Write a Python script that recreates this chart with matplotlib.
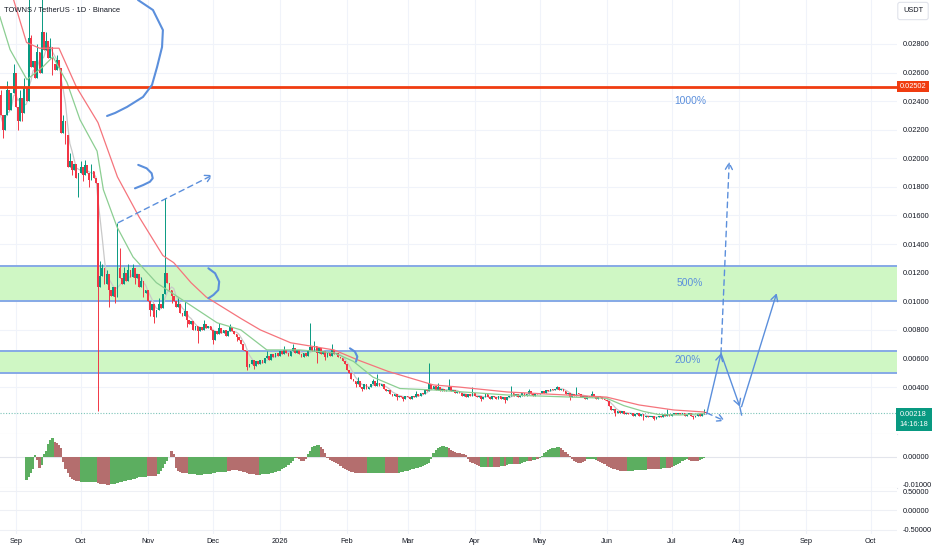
import numpy as np
import pandas as pd
import matplotlib
matplotlib.use('Agg')
import matplotlib.pyplot as plt
from matplotlib import font_manager

# prices in thousandths of USDT (0.0250 -> 25.0), one candle per day from 2025-08-25
first_open = 24.4
closes = [
    23.0, 22.0, 23.0, 24.8, 23.4, 24.6, 26.0,   # Aug 25
    23.6, 22.6, 24.2, 23.2, 25.0, 24.0, 28.4,   # Sep 1
    26.4, 26.8, 25.6, 27.4, 26.0, 28.8, 27.6,
    28.2, 27.0, 27.8, 26.6, 26.2, 26.9, 26.3,
    21.8, 22.6, 21.6, 19.4, 19.8, 19.2, 19.6,
    18.6, 19.0, 19.4, 18.8, 19.5, 19.0, 18.5,
    19.1, 18.6, 18.3, 11.0, 11.8, 12.3, 11.2,   # Oct 6
    11.9, 10.8, 10.4, 11.0, 10.3, 12.3, 11.6,
    11.2, 12.0, 11.4, 12.2, 11.7, 12.3, 11.6,
    11.9, 11.0, 11.4, 10.6, 10.8, 10.0, 9.4,
    9.8, 8.9, 9.4, 9.8, 9.5, 10.5, 12.0,        # Nov 3
    11.3, 10.8, 10.4, 10.0, 9.6, 9.8, 9.2,
    9.0, 9.3, 8.7, 8.4, 8.6, 8.0, 8.3,
    7.9, 8.2, 8.0, 8.4, 8.1, 8.3, 8.0,
    7.3, 7.9, 7.7, 8.1, 7.8, 8.0, 7.6,          # Dec 1
    7.9, 8.2, 7.9, 7.7, 7.5, 7.3, 7.0,
    6.6, 6.5, 5.4, 5.6, 5.9, 5.5, 5.8,
    5.6, 5.9, 5.7, 6.0, 6.2, 5.9, 6.3,
    6.1, 6.4, 6.2, 6.5, 6.3, 6.6, 6.4,          # Dec 29
    6.2, 6.5, 6.7, 6.4, 6.6, 6.3, 6.1,
    6.4, 6.2, 6.6, 6.8, 6.5, 6.9, 6.4,
    6.7, 6.3, 6.5, 6.1, 6.4, 6.2, 6.6,
    6.3, 6.4, 6.1, 6.0, 5.8, 5.6, 5.2,          # Jan 26
    5.0, 4.6, 4.4, 4.2, 4.4, 4.0, 3.9,
    4.2, 3.9, 4.0, 4.2, 4.4, 4.1, 4.3,
    4.1, 4.2, 3.9, 3.7, 3.8, 3.5, 3.4,
    3.5, 3.3, 3.4, 3.3, 3.2, 3.4, 3.3,          # Feb 23
    3.2, 3.4, 3.3, 3.5, 3.4, 3.6, 3.5,
    3.8, 3.7, 4.2, 3.9, 4.1, 3.8, 4.0,
    3.7, 3.9, 3.7, 3.8, 4.0, 3.7, 3.8,
    3.6, 3.7, 3.6, 3.4, 3.5, 3.3, 3.5,          # Mar 23
    3.4, 3.6, 3.4, 3.3, 3.4, 3.2, 3.3,
    3.5, 3.3, 3.2, 3.4, 3.3, 3.2, 3.4,
    3.2, 3.3, 3.1, 3.3, 3.4, 3.6, 3.4,
    3.5, 3.3, 3.4, 3.6, 3.4, 3.5, 3.7,          # Apr 20
    3.5, 3.4, 3.6, 3.5, 3.6, 3.7, 3.6,
    3.8, 3.7, 3.9, 3.8, 3.9, 4.0, 3.8,
    3.9, 3.7, 3.5, 3.6, 3.3, 3.5, 3.4,
    3.6, 3.5, 3.3, 3.4, 3.2, 3.4, 3.3,          # May 18
    3.5, 3.3, 3.2, 3.4, 3.3, 3.2, 3.1,
    3.0, 2.7, 2.4, 2.5, 2.2, 2.3, 2.2,
    2.3, 2.1, 2.2, 2.1, 2.2, 2.0, 2.1,
    2.2, 2.0, 2.1, 1.9, 2.0, 1.9, 1.9,          # Jun 15
    2.0, 1.8, 1.9, 2.0, 1.9, 2.1, 2.0,
    2.1, 2.0, 2.1, 2.2, 2.1, 2.2, 2.1,
    2.2, 2.0, 2.1, 2.2, 2.0, 1.9, 2.0,
    2.1, 2.0, 2.1, 2.2, 2.18,                   # Jul 13
]
wick_hi = {-7: 24.8, -4: 25.4, -1: 26.6, 2: 24.8, 4: 25.6, 6: 31.5, 7: 28.6, 10: 28.0,
           12: 31.2, 14: 28.8, 16: 28.4, 19: 27.2, 22: 23.0, 25: 20.4, 30: 19.8, 32: 19.9,
           35: 19.6, 39: 12.8, 40: 12.6, 42: 12.2, 47: 15.5, 48: 13.7, 50: 12.4, 52: 12.6,
           54: 12.6, 58: 11.7, 66: 10.2, 69: 17.2, 75: 10.2, 78: 10.0, 87: 8.7, 94: 8.5,
           99: 8.4, 116: 6.5, 124: 6.9, 128: 7.0, 136: 8.5, 138: 7.2, 146: 7.0, 158: 4.7,
           165: 4.6, 167: 4.9, 185: 3.7, 191: 5.7, 195: 4.3, 200: 4.6, 211: 4.0, 229: 4.1,
           237: 3.9, 250: 4.1, 259: 4.0, 266: 3.7, 301: 2.5, 318: 2.5}
wick_lo = {-6: 21.4, 1: 22.0, 3: 22.6, 17: 25.8, 23: 21.0, 26: 18.8, 29: 17.3, 31: 18.4,
           34: 18.0, 38: 2.3, 43: 9.6, 46: 9.9, 55: 11.2, 59: 10.3, 62: 9.0, 64: 8.5,
           72: 9.9, 79: 8.2, 84: 7.1, 91: 7.0, 102: 7.2, 107: 5.2, 110: 5.3, 139: 5.7,
           143: 5.9, 157: 4.0, 160: 3.7, 176: 3.1, 179: 3.0, 215: 3.0, 226: 2.9, 256: 3.1,
           277: 2.0, 290: 1.7, 295: 1.7, 313: 1.8}

# moving averages as they are drawn on the chart (day, price)
red_ma_days = [-1, 5, 11, 20, 28, 38, 47, 57, 68, 73, 81, 88, 104, 113, 127, 147, 158, 172,
               193, 205, 227, 273, 288, 304, 318]
red_ma_vals = [31.1, 28.1, 27.7, 27.7, 25.0, 22.5, 18.7, 15.9, 13.2, 12.7, 11.3, 10.3, 8.8,
               8.0, 7.1, 6.6, 5.9, 5.1, 4.15, 4.0, 3.66, 3.3, 2.75, 2.4, 2.26]
green_ma_days = [-7.3, -2.6, 5.2, 12.6, 17.2, 23.7, 29.7, 37.6, 40.5, 46.8, 54.2, 65, 77, 93,
                 104, 116, 131, 147, 156, 165, 177.5, 193, 227, 273, 281, 290, 297, 307, 318]
green_ma_vals = [29.9, 27.6, 25.5, 26.4, 27.1, 25.3, 22.7, 20.5, 17.8, 15.2, 13.1, 11.3, 10.1,
                 8.5, 8.0, 6.6, 6.6, 6.4, 5.8, 4.7, 3.9, 3.8, 3.45, 3.22, 2.7, 2.3, 2.08,
                 2.05, 2.16]

# oscillator histogram, units of 1e-4, one bar per day from day 5
osc_start = 5
osc_vals = [
    -83, -75, -60, -45, 6, -12, -42, -30,
    8, 20, 45, 62, 68, 54, 50, 42, 30,
    -20, -45, -60, -72, -80, -85, -88, -89,
    -90, -90, -91, -91, -92, -92, -93, -93,
    -95, -97, -99, -100, -101, -101,
    -100, -99, -97, -95, -93, -91, -89, -87, -85, -83, -81, -79, -77, -75, -74, -73, -72,
    -71, -71, -70, -70, -69,
    -62, -52, -40, -28, -14, -2,
    22, 10,
    -40, -50, -55, -58, -60, -60,
    -62, -63, -64, -64, -65, -65, -65, -64, -63, -62, -61, -60, -58, -57, -56, -55, -54, -54,
    -52, -50, -49, -48, -48, -50, -52, -55, -57, -59, -61, -63, -64, -65, -65,
    -65, -64, -63, -62, -61, -60, -58, -56, -53, -50, -46, -42, -37, -30, -22, -14, -6,
    -4, -10, -14, -14, -10,
    8, 22, 34, 40, 42, 42,
    36, 28, 15,
    -6, -12, -15, -18, -22, -28, -34, -40, -45, -49, -52, -55, -57, -58, -59, -60, -60, -60, -60,
    -60, -60, -60, -60, -60, -60, -60, -60,
    -60, -60, -60, -60, -60, -59,
    -58, -56, -54, -52, -50, -48, -46, -44, -42, -39, -36, -33, -30, -27, -24,
    -8,
    15, 25, 30, 35, 38, 38, 36,
    30, 26, 22, 18, 15, 12, 10, 8, 5,
    -10, -18, -24, -28,
    -30, -34, -36, -37, -37, -36, -36, -37, -38, -37, -36, -35, -34, -32, -30,
    -28, -26, -25, -26, -27, -25, -22, -18, -15, -14, -14, -13, -12, -10, -5,
    4, 12, 18, 24, 28, 31, 33, 34, 34,
    30, 25, 18, 10, 4,
    -10, -16, -20, -22, -22, -20, -16,
    -10, -8, -8, -10, -12,
    -16, -20, -24, -28, -32, -36, -40, -43, -46, -48, -50, -51, -52, -52,
    -51, -50, -50, -49, -49, -48, -48, -47, -47,
    -46, -46, -45, -45, -44, -44,
    -43, -42, -41,
    -40, -39, -38,
    -34, -30, -26, -21, -17, -13, -10,
    -12, -15, -17, -17, -15,
    -12, -8, -4, -1,
]
osc_colors = ("gggggrrg" + "gggggrrrr" + "r" * 8 + "g" * 8 + "r" * 6 + "g" * 17 + "r" * 5
              + "g" * 6 + "rr" + "r" * 6 + "g" * 18 + "r" * 15 + "g" * 17 + "r" * 5 + "g" * 6
              + "rrr" + "r" * 19 + "g" * 8 + "r" * 6 + "g" * 15 + "g" + "g" * 7 + "r" * 9
              + "r" * 4 + "rrgggrggrrrggrgggrrrggggrrggrg" + "g" * 9 + "r" * 5 + "r" * 7
              + "g" * 5 + "r" * 14 + "g" * 9 + "r" * 6 + "ggg" + "rrr" + "g" * 7 + "r" * 5
              + "g" * 4)

resistance = 25.02
zones = [(10.0, 12.5), (5.0, 6.5)]
last_price = 2.18
target_labels = ["1000%", "500%", "200%"]
target_pos = [(311.5, 24.0), (311.5, 11.3), (310.5, 5.9)]

# hand drawn marks (day, price)
curve_big = [(56.5, 31.07), (63.4, 30.37), (68.0, 28.97), (67.6, 27.78), (65.3, 26.38),
             (62.96, 25.13), (58.8, 24.29), (51.4, 23.59), (45.9, 23.17), (42.2, 22.96)]
curve_2 = [(56.6, 19.54), (60.5, 19.30), (62.8, 18.95), (63.3, 18.60), (62.0, 18.36),
           (58.9, 18.13), (55.1, 17.90)]
curve_3 = [(89.0, 12.31), (92.1, 11.96), (94.0, 11.37), (93.6, 10.79), (91.3, 10.44),
           (89.0, 10.21)]
curve_4 = [(154.4, 6.71), (156.7, 6.48), (157.8, 6.13), (157.2, 5.78)]
solid_arrows = [((319.2, 2.12), (325.8, 6.36)), ((325.8, 6.36), (334.5, 2.63)),
                ((335.3, 2.63), (351.5, 10.56))]
dashed_arrows = [((47.4, 15.5), (91.0, 18.83)), ((319.3, 2.19), (327.6, 1.63)),
                 ((325.8, 6.36), (329.6, 19.76))]

base = pd.Timestamp("2025-09-01")
months = pd.date_range("2025-09-01", "2026-10-01", freq="MS")
month_days = (months - base).days
month_labels = ["2026" if m.month == 1 else m.strftime("%b") for m in months]

names = {f.name for f in font_manager.fontManager.ttflist}
fam = "Liberation Sans Narrow" if "Liberation Sans Narrow" in names else "Liberation Sans"
plt.rcParams['font.family'] = [fam, 'DejaVu Sans']

txt = '#131722'
grid_c = '#f0f3fa'
up_c = '#089981'
dn_c = '#f23645'
blue = '#5b8fdc'
lab_fs = 5.3

W, H = 932, 550
fig = plt.figure(figsize=(W / 100, H / 100), dpi=100)
pw = 897 / W
ax = fig.add_axes([0, (H - 434) / H, pw, 434 / H])
ax2 = fig.add_axes([0, (H - 488) / H, pw, 54 / H])
ax3 = fig.add_axes([0, (H - 534) / H, pw, 46 / H])

xlim = (-7.25, 407.1)
for a in (ax, ax2, ax3):
    a.set_xlim(*xlim)
    a.set_xticks(month_days)
    a.grid(axis='x', color=grid_c, lw=0.8)
    a.yaxis.tick_right()
    a.tick_params(length=0, labelsize=lab_fs, colors=txt, pad=4)
    for s in a.spines.values():
        s.set_visible(False)
    a.set_axisbelow(True)
ax.tick_params(labelbottom=False)
ax2.tick_params(labelbottom=False)
ax3.set_xticklabels(month_labels)
ax3.tick_params(axis='x', pad=3)

# main pane
ax.set_ylim(0.72, 31.07)
ticks = np.arange(4, 29, 2)
ax.set_yticks(ticks)
ax.set_yticklabels([f"{t / 1000:.5f}" for t in ticks])
ax.grid(axis='y', color=grid_c, lw=0.8)
ax.spines['bottom'].set_visible(True)
ax.spines['bottom'].set_color('#e0e3eb')

for lo, hi in zones:
    ax.axhspan(lo, hi, color='#cff7c4', lw=0, zorder=1)
    ax.axhline(lo, color='#86a9e6', lw=1.4, zorder=1.5)
    ax.axhline(hi, color='#86a9e6', lw=1.4, zorder=1.5)

days = np.arange(-7, -7 + len(closes))
c = np.array(closes)
o = np.concatenate([[first_open], c[:-1]])
hi = np.maximum(o, c)
lo = np.minimum(o, c)
for i, d in enumerate(days):
    if d in wick_hi:
        hi[i] = max(hi[i], wick_hi[d])
    if d in wick_lo:
        lo[i] = min(lo[i], wick_lo[d])
cols = np.where(c >= o, up_c, dn_c)
ax.vlines(days, lo, hi, colors=cols, lw=0.7, zorder=3)
body_h = np.maximum(np.abs(c - o), 0.06)
ax.bar(days, body_h, bottom=np.minimum(o, c), width=0.8, color=cols, lw=0, zorder=3)

gray_ma = pd.Series(c).rolling(5, min_periods=1).mean()
ax.plot(days, gray_ma, color='#c9c9c9', lw=0.9, zorder=2.5)
ax.plot(green_ma_days, green_ma_vals, color='#8cce92', lw=0.9, zorder=4)
ax.plot(red_ma_days, red_ma_vals, color='#f5747c', lw=0.9, zorder=4)

ax.axhline(resistance, color='#f03c10', lw=2.0, zorder=5)
ax.axhline(last_price, color='#7cc4b8', lw=0.8, ls=(0, (1, 1.5)), zorder=2)

for lab, (tx, ty) in zip(target_labels, target_pos):
    ax.text(tx, ty, lab, color=blue, fontsize=7.4, ha='center', va='center', zorder=6)

for cv in (curve_big, curve_2, curve_3, curve_4):
    cx, cy = zip(*cv)
    ax.plot(cx, cy, color=blue, lw=1.5, solid_capstyle='round', solid_joinstyle='round',
            zorder=6)
for st, en in solid_arrows:
    ax.annotate('', xy=en, xytext=st, zorder=6,
                arrowprops=dict(arrowstyle='->,head_length=0.45,head_width=0.25', color=blue,
                                lw=1.0, shrinkA=0, shrinkB=0))
for st, en in dashed_arrows:
    ax.annotate('', xy=en, xytext=st, zorder=6,
                arrowprops=dict(arrowstyle='->,head_length=0.45,head_width=0.25', color=blue,
                                lw=1.0, ls=(0, (4, 3)), shrinkA=0, shrinkB=0))
ax.plot([334.5, 335.3], [2.62, 2.05], color=blue, lw=1.0, zorder=6)

# price scale badges
bt = ax.get_yaxis_transform()
ax.text(1.003, resistance, "0.02502", transform=bt, fontsize=lab_fs, color='white',
        ha='left', va='center', zorder=7, clip_on=False,
        bbox=dict(boxstyle='square,pad=0.3', fc='#f03c10', ec='none'))
ax.text(1.003, 1.74, "0.00218\n14:16:18", transform=bt, fontsize=lab_fs, color='white',
        ha='left', va='center', zorder=7, clip_on=False, linespacing=1.45,
        bbox=dict(boxstyle='square,pad=0.45', fc=up_c, ec='none'))

# oscillator pane
n = min(len(osc_vals), len(osc_colors))
osc_x = np.arange(osc_start, osc_start + n)
osc_c = ['#5cae60' if k == 'g' else '#b46e6e' for k in osc_colors[:n]]
ax2.axhline(0, color='#e3e5ec', lw=0.8, zorder=1)
ax2.bar(osc_x, osc_vals[:n], width=1.0, color=osc_c, lw=0, zorder=2)
ax2.set_ylim(-113, 82)
ax2.set_yticks([0, -100])
ax2.set_yticklabels(["0.00000", "-0.01000"])
ax2.spines['bottom'].set_visible(True)
ax2.spines['bottom'].set_color('#e0e3eb')

# empty third pane
ax3.set_ylim(-0.603, 0.577)
ax3.set_yticks([0.5, 0, -0.5])
ax3.set_yticklabels(["0.50000", "0.00000", "-0.50000"])
ax3.grid(axis='y', color='#eef0f5', lw=0.8)

fig.text(4 / W, 1 - 10 / H, "TOWNS / TetherUS · 1D · Binance", fontsize=5.4, color=txt,
         ha='left', va='center')
fig.text(913 / W, 1 - 11 / H, "USDT", fontsize=5.3, color=txt, ha='center', va='center',
         bbox=dict(boxstyle='round,pad=0.7,rounding_size=0.3', fc='white', ec='#e0e3eb',
                   lw=0.8))

fig.savefig("out.png", dpi=100)
